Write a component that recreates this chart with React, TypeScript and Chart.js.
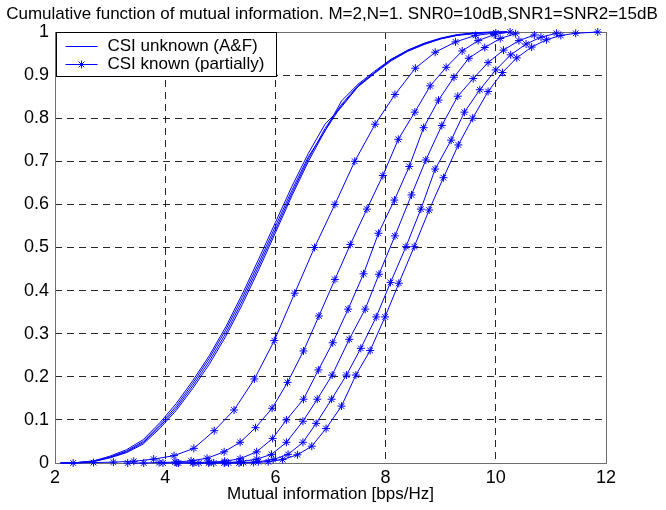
import React, { useEffect, useRef } from 'react';
import { Chart, registerables } from 'chart.js';

Chart.register(...registerables);

const TITLE = 'Cumulative function of mutual information. M=2,N=1. SNR0=10dB,SNR1=SNR2=15dB';
const X_LABEL = 'Mutual information [bps/Hz]';
const LEGEND_LABELS = ['CSI unknown (A&F)', 'CSI known (partially)'];
const X_TICKS = [2, 4, 6, 8, 10, 12];
const Y_TICKS = [0, 0.1, 0.2, 0.3, 0.4, 0.5, 0.6, 0.7, 0.8, 0.9, 1];

// CSI unknown (A&F) curves (solid, no markers)
const unknownX = [2.1, 2.4, 2.7, 3.0, 3.3, 3.6, 3.9, 4.2, 4.5, 4.8, 5.1, 5.4, 5.7, 6.0, 6.3, 6.6, 6.9, 7.2, 7.5, 7.8, 8.1, 8.4, 8.7, 9.0, 9.3, 9.6, 9.9, 10.2];
const unknown1Y = [0, 0.001, 0.005, 0.016, 0.031, 0.054, 0.093, 0.138, 0.191, 0.249, 0.316, 0.392, 0.474, 0.558, 0.642, 0.719, 0.786, 0.826, 0.874, 0.906, 0.936, 0.958, 0.974, 0.986, 0.994, 0.998, 1, 1];
const unknown2Y = [0, 0.001, 0.004, 0.014, 0.028, 0.05, 0.088, 0.132, 0.185, 0.243, 0.309, 0.384, 0.465, 0.549, 0.633, 0.711, 0.77, 0.84, 0.879, 0.909, 0.937, 0.957, 0.973, 0.985, 0.993, 0.997, 0.999, 1];
const unknown3Y = [0, 0.001, 0.004, 0.013, 0.026, 0.047, 0.084, 0.127, 0.179, 0.236, 0.301, 0.376, 0.457, 0.541, 0.626, 0.706, 0.776, 0.832, 0.876, 0.906, 0.935, 0.956, 0.972, 0.984, 0.993, 0.997, 0.999, 1];
const unknown4Y = [0, 0, 0.003, 0.012, 0.024, 0.044, 0.08, 0.122, 0.173, 0.229, 0.294, 0.368, 0.449, 0.534, 0.62, 0.7, 0.771, 0.829, 0.873, 0.904, 0.933, 0.955, 0.971, 0.984, 0.992, 0.996, 0.999, 1];

// CSI known (partially) curves (with * markers)
const known1X = [2.33, 2.7, 3.06, 3.43, 3.79, 4.16, 4.52, 4.89, 5.25, 5.62, 5.98, 6.35, 6.71, 7.08, 7.44, 7.81, 8.17, 8.54, 8.9, 9.27, 9.63, 10.0];
const known1Y = [0, 0.001, 0.002, 0.004, 0.009, 0.017, 0.034, 0.075, 0.123, 0.195, 0.284, 0.394, 0.5, 0.6, 0.7, 0.786, 0.855, 0.916, 0.953, 0.977, 0.992, 0.998];
const known2X = [3.32, 3.61, 3.89, 4.18, 4.47, 4.76, 5.07, 5.36, 5.64, 5.94, 6.22, 6.51, 6.79, 7.08, 7.36, 7.66, 7.95, 8.23, 8.53, 8.81, 9.1, 9.39, 9.68, 9.97, 10.26];
const known2Y = [0, 0, 0.001, 0.002, 0.005, 0.011, 0.026, 0.048, 0.082, 0.127, 0.187, 0.26, 0.341, 0.426, 0.507, 0.589, 0.667, 0.751, 0.814, 0.875, 0.918, 0.956, 0.98, 0.994, 1];
const known3X = [3.96, 4.24, 4.52, 4.8, 5.08, 5.36, 5.66, 5.95, 6.2, 6.51, 6.78, 7.04, 7.32, 7.6, 7.87, 8.16, 8.43, 8.69, 8.96, 9.24, 9.51, 9.8, 10.08, 10.36];
const known3Y = [0, 0, 0.001, 0.002, 0.004, 0.01, 0.026, 0.057, 0.1, 0.148, 0.216, 0.279, 0.357, 0.439, 0.533, 0.61, 0.688, 0.778, 0.842, 0.895, 0.939, 0.964, 0.985, 0.996];
const known4X = [4.21, 4.5, 4.79, 5.08, 5.37, 5.66, 5.93, 6.2, 6.5, 6.76, 7.03, 7.34, 7.63, 7.88, 8.17, 8.47, 8.73, 9.02, 9.31, 9.59, 9.86, 10.14, 10.42, 10.7];
const known4Y = [0, 0, 0, 0.001, 0.003, 0.009, 0.02, 0.048, 0.097, 0.148, 0.204, 0.287, 0.357, 0.438, 0.527, 0.622, 0.703, 0.783, 0.851, 0.892, 0.929, 0.958, 0.98, 0.993];
const known5X = [4.61, 4.88, 5.15, 5.42, 5.69, 5.96, 6.23, 6.5, 6.74, 7.02, 7.29, 7.55, 7.83, 8.09, 8.37, 8.64, 8.9, 9.19, 9.43, 9.71, 10.0, 10.27, 10.55, 10.82, 11.1];
const known5Y = [0, 0, 0, 0.001, 0.003, 0.008, 0.02, 0.048, 0.092, 0.148, 0.204, 0.266, 0.339, 0.419, 0.502, 0.589, 0.682, 0.749, 0.814, 0.866, 0.912, 0.947, 0.972, 0.988, 0.997];
const known6X = [5.07, 5.34, 5.6, 5.87, 6.13, 6.4, 6.66, 6.92, 7.2, 7.46, 7.72, 7.99, 8.24, 8.52, 8.79, 9.05, 9.32, 9.58, 9.86, 10.12, 10.38, 10.65, 10.92, 11.18, 11.45, 11.85];
const known6Y = [0, 0, 0.001, 0.003, 0.008, 0.019, 0.039, 0.08, 0.132, 0.204, 0.261, 0.339, 0.417, 0.502, 0.587, 0.662, 0.738, 0.8, 0.862, 0.906, 0.94, 0.965, 0.982, 0.992, 0.997, 1];

const BLUE = '#0000ff';
const FONT_FAMILY = '"Liberation Sans", Arial, Helvetica, sans-serif';

const toPoints = (xs: number[], ys: number[]) => xs.map((x, i) => ({ x, y: ys[i] }));

const unknownSeries = [unknown1Y, unknown2Y, unknown3Y, unknown4Y];
const knownSeries: [number[], number[]][] = [
  [known1X, known1Y],
  [known2X, known2Y],
  [known3X, known3Y],
  [known4X, known4Y],
  [known5X, known5Y],
  [known6X, known6Y],
];

function drawStar(ctx: CanvasRenderingContext2D, x: number, y: number, r: number) {
  ctx.beginPath();
  for (let k = 0; k < 4; k++) {
    const a = (k * Math.PI) / 4;
    const dx = Math.cos(a) * r;
    const dy = Math.sin(a) * r;
    ctx.moveTo(x - dx, y - dy);
    ctx.lineTo(x + dx, y + dy);
  }
  ctx.stroke();
}

const framePlugin = {
  id: 'frame',
  beforeDatasetsDraw(chart: any) {
    const { ctx, chartArea } = chart;
    ctx.save();
    ctx.strokeStyle = '#6e6e6e';
    ctx.lineWidth = 1;
    ctx.setLineDash([]);
    ctx.strokeRect(chartArea.left + 0.5, chartArea.top + 0.5, chartArea.right - chartArea.left, chartArea.bottom - chartArea.top);
    ctx.restore();
  },
};

const titlePlugin = {
  id: 'matlabTitle',
  afterDraw(chart: any) {
    const { ctx } = chart;
    ctx.save();
    ctx.fillStyle = '#000';
    ctx.font = `17px ${FONT_FAMILY}`;
    ctx.textAlign = 'center';
    ctx.textBaseline = 'middle';
    ctx.fillText(TITLE, 332, 14, 657);
    ctx.restore();
  },
};

const legendPlugin = {
  id: 'matlabLegend',
  afterDatasetsDraw(chart: any) {
    const { ctx, chartArea } = chart;
    const left = chartArea.left + 1.5;
    const top = chartArea.top + 0.5;
    const w = 220;
    const h = 44;
    ctx.save();
    ctx.fillStyle = '#fff';
    ctx.fillRect(left, top, w, h);
    ctx.strokeStyle = '#000';
    ctx.lineWidth = 1;
    ctx.setLineDash([]);
    ctx.strokeRect(left, top, w, h);
    const rows = [top + 13, top + 31];
    ctx.strokeStyle = BLUE;
    rows.forEach((ry, i) => {
      ctx.beginPath();
      ctx.moveTo(left + 9, Math.round(ry) + 0.5);
      ctx.lineTo(left + 41, Math.round(ry) + 0.5);
      ctx.stroke();
      if (i === 1) drawStar(ctx, left + 25, Math.round(ry) + 0.5, 4);
    });
    ctx.fillStyle = '#000';
    ctx.font = `17px ${FONT_FAMILY}`;
    ctx.textAlign = 'left';
    ctx.textBaseline = 'middle';
    rows.forEach((ry, i) => ctx.fillText(LEGEND_LABELS[i], left + 51, ry + 1));
    ctx.restore();
  },
};

export default function App() {
  const ref = useRef<HTMLCanvasElement>(null);

  useEffect(() => {
    const canvas = ref.current;
    if (!canvas) return;

    const datasets: any[] = [];
    unknownSeries.forEach((ys, i) => {
      datasets.push({
        label: i === 0 ? LEGEND_LABELS[0] : '',
        data: toPoints(unknownX, ys),
        showLine: true,
        borderColor: BLUE,
        backgroundColor: BLUE,
        borderWidth: 1,
        pointRadius: 0,
        tension: 0,
        clip: false,
      });
    });
    knownSeries.forEach(([xs, ys], i) => {
      datasets.push({
        label: i === 0 ? LEGEND_LABELS[1] : '',
        data: toPoints(xs, ys),
        showLine: true,
        borderColor: BLUE,
        backgroundColor: BLUE,
        borderWidth: 1,
        pointStyle: 'star',
        pointRadius: 4,
        pointBorderWidth: 1,
        pointBorderColor: BLUE,
        tension: 0,
        clip: false,
      });
    });

    const tickFont = { family: FONT_FAMILY, size: 18 };

    const chart = new Chart(canvas, {
      type: 'scatter',
      data: { datasets },
      options: {
        responsive: false,
        animation: false,
        events: [],
        layout: { padding: { left: 0, right: 60, top: 32, bottom: 5 } },
        plugins: {
          legend: { display: false },
          title: { display: false },
          tooltip: { enabled: false },
        },
        scales: {
          x: {
            type: 'linear',
            min: 2,
            max: 12,
            afterBuildTicks: (scale: any) => {
              scale.ticks = X_TICKS.map((value) => ({ value }));
            },
            afterFit: (scale: any) => {
              scale.height = 42;
            },
            ticks: {
              color: '#000',
              font: tickFont,
              padding: 4,
              maxRotation: 0,
              autoSkip: false,
              callback: (v: any) => String(v),
            },
            grid: { color: 'rgba(0,0,0,0.85)', lineWidth: 1, drawTicks: false },
            border: { display: false, dash: [7, 5] },
            title: {
              display: true,
              text: X_LABEL,
              color: '#000',
              font: { family: FONT_FAMILY, size: 17 },
              padding: { top: 0, bottom: 0 },
            },
          },
          y: {
            type: 'linear',
            min: 0,
            max: 1,
            afterBuildTicks: (scale: any) => {
              scale.ticks = Y_TICKS.map((value) => ({ value }));
            },
            afterFit: (scale: any) => {
              scale.width = 55;
            },
            ticks: {
              color: '#000',
              font: tickFont,
              padding: 6,
              autoSkip: false,
              callback: (v: any) => String(Math.round(Number(v) * 10) / 10),
            },
            grid: { color: 'rgba(0,0,0,0.85)', lineWidth: 1, drawTicks: false },
            border: { display: false, dash: [7, 5] },
          },
        },
      },
      plugins: [framePlugin, legendPlugin, titlePlugin],
    } as any);

    return () => chart.destroy();
  }, []);

  return (
    <div style={{ position: 'absolute', left: 0, top: 0, width: 666, height: 510, background: '#fff' }}>
      <canvas ref={ref} width={666} height={510} style={{ display: 'block', width: 666, height: 510 }} />
    </div>
  );
}
